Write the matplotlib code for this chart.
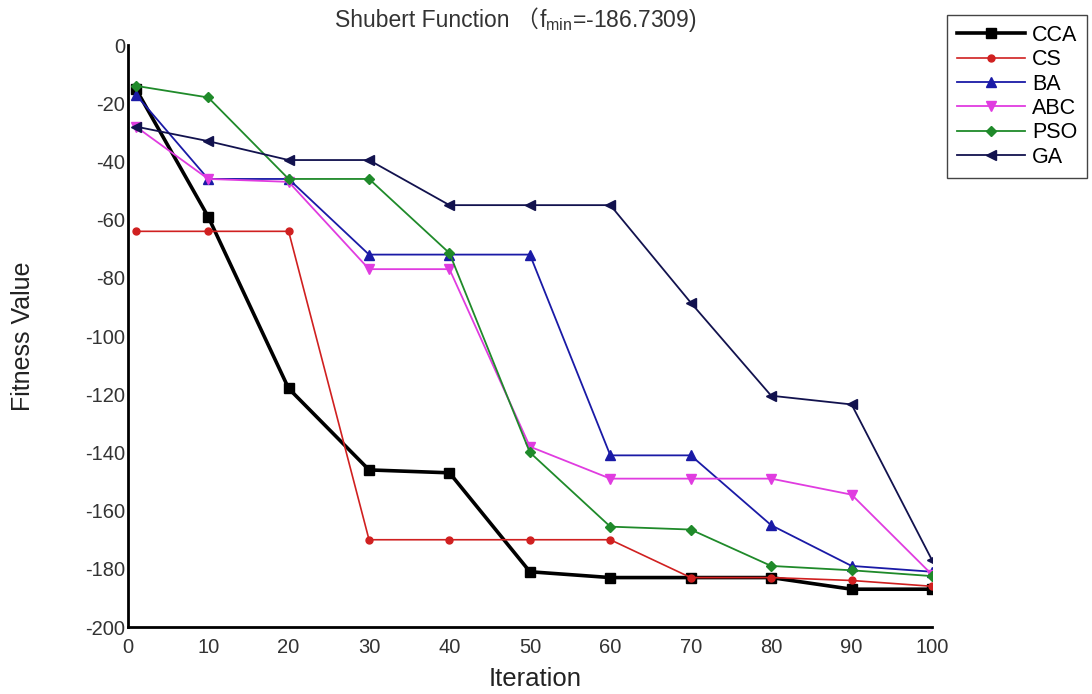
import matplotlib
matplotlib.use('Agg')
import matplotlib.pyplot as plt

plt.rcParams['font.family'] = ['Liberation Sans', 'Noto Sans CJK SC', 'DejaVu Sans']
plt.rcParams['mathtext.fontset'] = 'custom'
plt.rcParams['mathtext.rm'] = 'Liberation Sans'
plt.rcParams['mathtext.it'] = 'Liberation Sans'
plt.rcParams['axes.unicode_minus'] = False

iterations = [1, 10, 20, 30, 40, 50, 60, 70, 80, 90, 100]

cca = [-15, -59, -118, -146, -147, -181, -183, -183, -183, -187, -187]
cs = [-64, -64, -64, -170, -170, -170, -170, -183, -183, -184, -186]
ba = [-17, -46, -46, -72, -72, -72, -141, -141, -165, -179, -181]
abc = [-28, -46, -47, -77, -77, -138, -149, -149, -149, -154.5, -182]
pso = [-14, -18, -46, -46, -71.5, -140, -165.5, -166.5, -179, -180.5, -182.5]
ga = [-28, -33, -39.5, -39.5, -55, -55, -55, -88.5, -120.5, -123.5, -177]

series = [
	('CCA', cca, 's', '#000000', 2.6, 7.5),
	('CS', cs, 'o', '#d02020', 1.2, 5),
	('BA', ba, '^', '#1a1aa6', 1.3, 6.5),
	('ABC', abc, 'v', '#e03ce0', 1.3, 6.5),
	('PSO', pso, 'D', '#1f8a2a', 1.3, 5.5),
	('GA', ga, '<', '#12124e', 1.3, 6.5),
]

fig = plt.figure(figsize=(10.92, 6.94), dpi=100)
ax = fig.add_axes([0.117, 0.0965, 0.7365, 0.8385])

for name, vals, mk, col, lw, ms in series:
	ax.plot(iterations, vals, '-', marker=mk, color=col, linewidth=lw,
		markersize=ms, label=name)

ax.set_xlim(0, 100)
ax.set_ylim(-200, 0)
ax.set_xticks(range(0, 101, 10))
ax.set_yticks(range(-200, 1, 20))
ax.tick_params(length=0, labelsize=14.5, labelcolor='#333333')
ax.tick_params(axis='x', pad=8)
ax.tick_params(axis='y', pad=2)
ax.spines['top'].set_visible(False)
ax.spines['right'].set_visible(False)
ax.spines['left'].set_linewidth(2)
ax.spines['bottom'].set_linewidth(2)

ax.set_xlabel('Iteration', fontsize=18.5, color='#222222')
ax.xaxis.set_label_coords(0.506, -0.068)
ax.set_ylabel('Fitness Value', fontsize=18, color='#222222')
ax.yaxis.set_label_coords(-0.115, 0.5)

# title in two pieces so the full-width bracket can fall back to a CJK font
t1 = fig.text(0.307, 0.961, 'Shubert Function （', fontsize=16.5,
	color='#333333', ha='left', va='baseline')
ax.annotate('$\\mathregular{f_{min}}$=-186.7309)', xy=(1, 0.961),
	xycoords=(t1, 'figure fraction'), fontsize=16.5, color='#333333',
	ha='left', va='baseline', annotation_clip=False)

fig.legend(loc='upper right', bbox_to_anchor=(0.9954, 0.9784), borderaxespad=0,
	fontsize=15.5, fancybox=False, edgecolor='#444444', framealpha=1,
	handlelength=3.2, handletextpad=0.3, borderpad=0.45, labelspacing=0.16)

fig.savefig('out.png', dpi=100)
